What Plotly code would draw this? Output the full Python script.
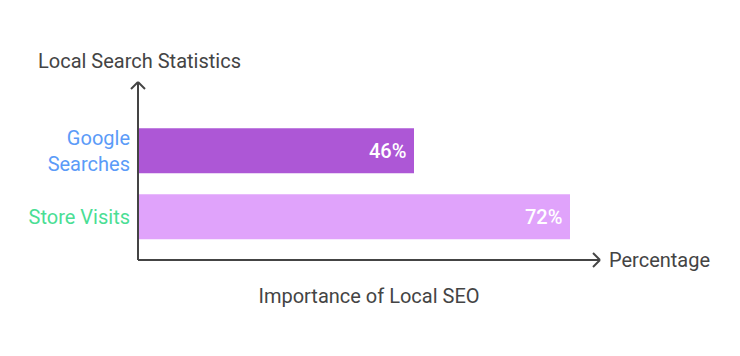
import plotly.graph_objects as go

categories = ["Store Visits", "Google Searches"]
tick_labels = ["Store Visits", "Google<br>Searches"]
values = [72, 46]
bar_colors = ["#E0A3FB", "#AD57D6"]
label_colors = ["#4ADE94", "#5B9BF8"]

FONT = "Roboto"
TXT = "#444444"
FS = 20

fig = go.Figure()
fig.add_trace(go.Bar(
    y=list(range(len(categories))),
    x=values,
    orientation="h",
    width=0.68,
    marker=dict(color=bar_colors, line=dict(width=0)),
    hoverinfo="skip",
))

for i, v in enumerate(values):
    fig.add_annotation(x=v, y=i, xref="x", yref="y", text=f"{v}%",
                       xanchor="right", yanchor="middle", xshift=-6, showarrow=False,
                       font=dict(family=FONT, size=FS, color="white", weight=500))

ticktext = [f"<span style='color:{c}'>{t}</span>" for t, c in zip(tick_labels, label_colors)]

fig.update_layout(
    width=740, height=356,
    margin=dict(l=130, r=148, t=74, b=104),
    paper_bgcolor="white", plot_bgcolor="white",
    showlegend=False,
    font=dict(family=FONT, size=FS, color=TXT),
    xaxis=dict(range=[0, 77], showgrid=False, zeroline=False, showticklabels=False,
               showline=False, fixedrange=True,
               title=dict(text="Importance of Local SEO", font=dict(size=FS, color=TXT), standoff=28)),
    yaxis=dict(range=[-0.656, 2.041], showgrid=False, zeroline=False, showline=False,
               tickvals=list(range(len(categories))), ticktext=ticktext,
               ticks="", ticklabelstandoff=7, fixedrange=True,
               tickfont=dict(family=FONT, size=FS)),
)

# axis lines with open chevron arrows (domain coordinates)
W, H = 462.0, 178.0
lc = dict(color="#444444", width=2)
def seg(x0, y0, x1, y1):
    fig.add_shape(type="line", xref="x domain", yref="y domain",
                  x0=x0, y0=y0, x1=x1, y1=y1, line=lc, layer="above")
seg(0, 0, 1, 0)
seg(1, 0, 1 - 7 / W, 7 / H)
seg(1, 0, 1 - 7 / W, -7 / H)
seg(0, 0, 0, 1)
seg(0, 1, 7 / W, 1 - 7 / H)
seg(0, 1, -7 / W, 1 - 7 / H)

fig.add_annotation(text="Local Search Statistics", xref="paper", yref="paper",
                   x=(36 - 138) / W, y=1 + (82 - 61) / H,
                   xanchor="left", yanchor="middle", showarrow=False,
                   font=dict(family=FONT, size=FS, color=TXT))
fig.add_annotation(text="Percentage", xref="paper", yref="paper",
                   x=1 + 7 / W, y=0, xanchor="left", yanchor="middle", showarrow=False,
                   font=dict(family=FONT, size=FS, color=TXT))

fig.write_html("out.html")
